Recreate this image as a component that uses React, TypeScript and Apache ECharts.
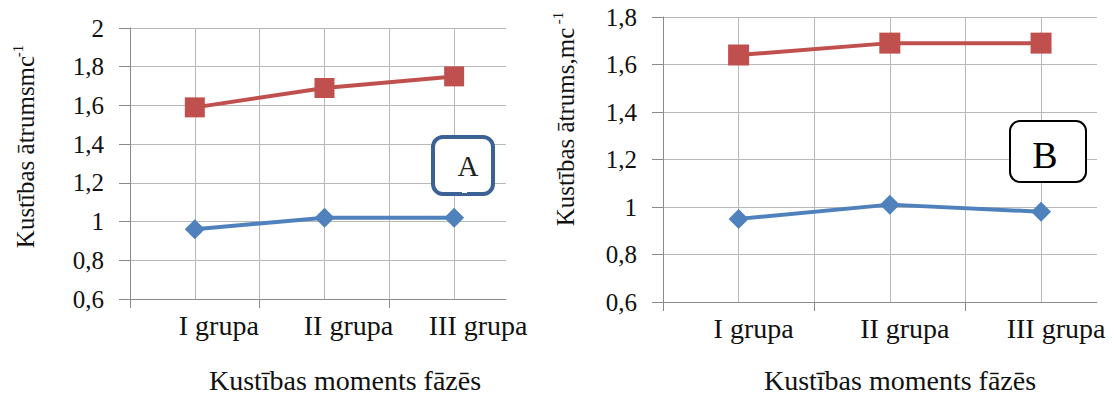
import React, { useEffect, useRef } from "react";
import * as echarts from "echarts";

// Groups shown on both horizontal axes
const categories = ["I grupa", "II grupa", "III grupa"];

// Panel A: movement speed, m/s
const speedA_red = [1.59, 1.69, 1.75];
const speedA_blue = [0.96, 1.02, 1.02];

// Panel B: movement speed, m/s
const speedB_red = [1.64, 1.69, 1.69];
const speedB_blue = [0.95, 1.01, 0.98];

// Value-axis ranges
const yRangeA = [0.6, 2];
const yRangeB = [0.6, 1.8];
const yStep = 0.2;

const xTitle = "Kustības moments fāzēs";
const yTitleA = "Kustības ātrumsmc";
const yTitleB = "Kustības ātrums,mc";
const exponent = "-1";

const FONT = "Liberation Serif";
const RED = "#C0504D";
const BLUE = "#4F81BD";
const GRID = "#B8B8B8";
const AXIS = "#8A8A8A";
const TEXT = "#111111";

// Each group sits in the middle of its own unit-wide slot on the x scale
const toPoints = (values: number[]) => values.map((v, i) => [i + 0.5, v]);

// Visible category axis: ticks on slot borders, names in slot centres
const xAxisFor = (gridIndex: number, max: number, shift: number) => ({
  type: "value",
  gridIndex,
  min: 0,
  max,
  interval: 0.5,
  axisLine: { show: true, lineStyle: { color: AXIS, width: 1 } },
  axisTick: {
    show: true,
    length: 9,
    customValues: categories.map((_, i) => i),
    lineStyle: { color: AXIS },
  },
  axisLabel: {
    customValues: categories.map((_, i) => i + 0.5),
    formatter: (v: number) => categories[Math.floor(v)] ?? "",
    fontFamily: FONT,
    fontSize: 28,
    color: TEXT,
    margin: 12,
    padding: [0, 0, 0, shift],
  },
  splitLine: { show: false },
  z: 5,
});

// Companion axis that only draws the vertical grid every half slot
const xGridAxisFor = (gridIndex: number, max: number) => ({
  type: "value",
  gridIndex,
  min: 0,
  max,
  interval: 0.5,
  axisLine: { show: false },
  axisTick: { show: false },
  axisLabel: { show: false },
  splitLine: {
    show: true,
    showMinLine: false,
    showMaxLine: false,
    lineStyle: { color: GRID, width: 1 },
  },
});

const yAxisFor = (gridIndex: number, range: number[], margin: number) => ({
  type: "value",
  gridIndex,
  min: range[0],
  max: range[1],
  interval: yStep,
  axisLine: { show: true, lineStyle: { color: AXIS, width: 1 } },
  axisTick: { show: true, length: 11, lineStyle: { color: AXIS } },
  axisLabel: {
    formatter: (v: number) => String(+v.toFixed(1)).replace(".", ","),
    fontFamily: FONT,
    fontSize: 25,
    color: TEXT,
    margin,
  },
  splitLine: { show: true, lineStyle: { color: GRID, width: 1 } },
});

const lineSeries = (
  axis: number,
  values: number[],
  color: string,
  symbol: string,
  size: number
) => ({
  type: "line",
  xAxisIndex: axis,
  yAxisIndex: axis,
  data: toPoints(values),
  symbol,
  symbolSize: size,
  showAllSymbol: true,
  lineStyle: { color, width: 4 },
  itemStyle: { color },
  emphasis: { disabled: true },
  z: 3,
});

const textAt = (
  x: number,
  y: number,
  text: string,
  size: number,
  rotate = false,
  fill = TEXT
) => ({
  type: "text",
  x,
  y,
  rotation: rotate ? Math.PI / 2 : 0,
  z: 101,
  style: {
    text,
    fontFamily: FONT,
    fontSize: size,
    fill,
    align: "center",
    verticalAlign: "middle",
  },
});

export default function App() {
  const ref = useRef<HTMLDivElement>(null);

  useEffect(() => {
    if (!ref.current) return;
    const chart = echarts.init(ref.current, undefined, { renderer: "svg" });
    chart.setOption({
      animation: false,
      backgroundColor: "#ffffff",
      textStyle: { fontFamily: FONT },
      grid: [
        { left: 130, top: 28, width: 376, height: 271, containLabel: false },
        { left: 663, top: 17, width: 434, height: 285, containLabel: false },
      ],
      xAxis: [
        xAxisFor(0, 2.9, 48),
        xAxisFor(1, 2.87, 30),
        xGridAxisFor(0, 2.9),
        xGridAxisFor(1, 2.87),
      ],
      yAxis: [yAxisFor(0, yRangeA, 26), yAxisFor(1, yRangeB, 26)],
      series: [
        lineSeries(0, speedA_red, RED, "rect", 20),
        lineSeries(0, speedA_blue, BLUE, "diamond", 20),
        lineSeries(1, speedB_red, RED, "rect", 21),
        lineSeries(1, speedB_blue, BLUE, "diamond", 20),
      ],
      graphic: [
        // vertical titles with a raised exponent
        textAt(25, 152, yTitleA, 25, true),
        textAt(18, 51, exponent, 15, true),
        textAt(565, 127, yTitleB, 25, true),
        textAt(558, 18, exponent, 15, true),
        // horizontal titles
        textAt(345, 380, xTitle, 28),
        textAt(900, 380, xTitle, 28),
        // panel tag "A" (callout box with a small notch in its lower edge)
        {
          type: "rect",
          z: 100,
          shape: { x: 433, y: 137, width: 60, height: 57, r: 10 },
          style: { fill: "#ffffff", stroke: "#3B6195", lineWidth: 4 },
        },
        {
          type: "rect",
          z: 101,
          shape: { x: 462, y: 191, width: 5, height: 2 },
          style: { fill: "#ffffff" },
        },
        textAt(468, 166, "A", 29, false, "#222222"),
        // panel tag "B"
        {
          type: "rect",
          z: 100,
          shape: { x: 1010, y: 121, width: 76, height: 61, r: 10 },
          style: { fill: "#ffffff", stroke: "#000000", lineWidth: 2 },
        },
        textAt(1045, 155, "B", 38, false, "#000000"),
      ],
    });
    return () => chart.dispose();
  }, []);

  return (
    <div
      ref={ref}
      style={{ position: "absolute", left: 0, top: 0, width: 1114, height: 394 }}
    />
  );
}
